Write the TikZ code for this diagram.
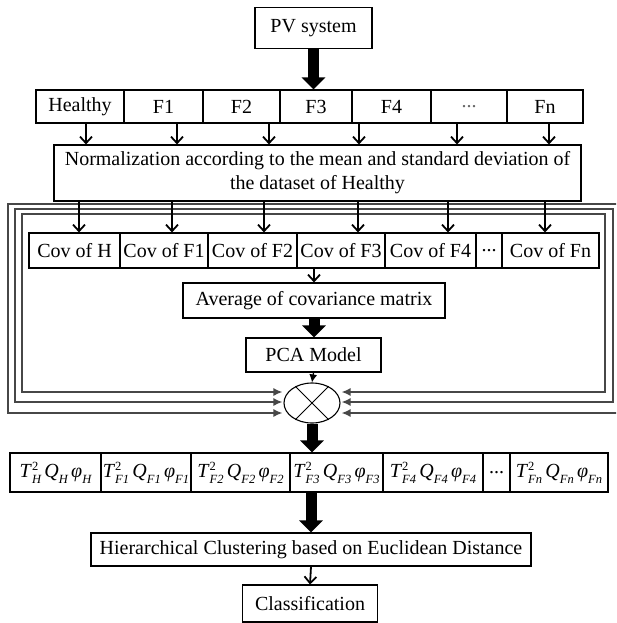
\documentclass[tikz,border=0pt]{standalone}
\usepackage{fontspec}
\setmainfont{Liberation Serif}
\usetikzlibrary{arrows.meta,shapes.geometric,calc}

% stacked super/subscript in text mode
\newcommand{\ssc}[2]{\makebox[0pt][l]{\raisebox{0.8ex}{\fontsize{12.5}{12.5}\selectfont #1}}\raisebox{-0.6ex}{\fontsize{12.5}{12.5}\selectfont\itshape #2}}
\newcommand{\tqp}[1]{\textit{T}\ssc{2}{#1}\,\textit{Q}\ssc{}{#1}\,\textit{φ}\ssc{}{#1}}
% one cell of a row: name, left x, right x, centre y, height, text
\newcommand{\cell}[6]{\node[box,minimum width={#3-#2},minimum height=#5] (#1) at ({(#2+#3)/2},#4) {#6};}

\begin{document}
\begin{tikzpicture}[x=1pt,y=-1pt,
  box/.style={draw=black,line width=1.1pt,inner sep=0pt,font=\fontsize{20}{24}\selectfont},
  arr/.style={line width=1.8pt,-{Straight Barb[length=6.5pt,width=12pt]}},
  tharr/.style={line width=11pt,-{Triangle[length=12pt,width=23pt]}},
  ptr/.style={line width=1.2pt,-{Latex[length=8pt,width=8pt]}},
  frm/.style={draw=black!72,line width=1.5pt,{Latex[length=9pt,width=8pt]}-{Latex[length=9pt,width=8pt]}}]
\useasboundingbox (0,0) rectangle (616,623);
\clip (0,0) rectangle (616,623);

% source
\node[box,minimum width=117,minimum height=41] (pv) at (313.5,28) {PV system};

% data sets
\cell{r1}{36}{124}{106.5}{33}{Healthy}
\cell{r2}{124}{203}{106.5}{33}{F1}
\cell{r3}{203}{280}{106.5}{33}{F2}
\cell{r4}{280}{352}{106.5}{33}{F3}
\cell{r5}{352}{431}{106.5}{33}{F4}
\cell{r6}{431}{507}{106.5}{33}{\textcolor{black!60}{...}}
\cell{r7}{507}{583}{106.5}{33}{Fn}

% normalisation
\node[box,minimum width=527,minimum height=56,align=center] (norm) at (317.5,173)
  {Normalization according to the mean and standard deviation of\\the dataset of Healthy};

% covariances
\cell{c1}{29}{120}{250.5}{35}{Cov of H}
\cell{c2}{120}{208}{250.5}{35}{Cov of F1}
\cell{c3}{208}{297}{250.5}{35}{Cov of F2}
\cell{c4}{297}{385}{250.5}{35}{Cov of F3}
\cell{c5}{385}{476}{250.5}{35}{Cov of F4}
\cell{c6}{476}{502}{250.5}{35}{...}
\cell{c7}{502}{599}{250.5}{35}{Cov of Fn}

\node[box,minimum width=262,minimum height=35] (avg) at (314,300.5) {Average of covariance matrix};
\node[box,minimum width=135,minimum height=34] (pca) at (313.5,355) {PCA Model};

% multiplier
\node[draw=black,line width=1.1pt,ellipse,minimum width=56,minimum height=40,inner sep=0pt] (mul) at (312,403) {};
\draw[line width=0.9pt] (mul.45) -- (mul.225) (mul.135) -- (mul.315);

% statistics
\cell{t1}{10}{101}{472.5}{39}{\tqp{H}}
\cell{t2}{101}{191}{472.5}{39}{\tqp{F1}}
\cell{t3}{191}{290}{472.5}{39}{\tqp{F2}}
\cell{t4}{290}{383}{472.5}{39}{\tqp{F3}}
\cell{t5}{383}{483}{472.5}{39}{\tqp{F4}}
\cell{t6}{483}{510}{472.5}{39}{...}
\cell{t7}{510}{608}{472.5}{39}{\tqp{Fn}}

\node[box,minimum width=440,minimum height=33] (hier) at (311,549.5) {Hierarchical  Clustering based on Euclidean Distance};
\node[box,minimum width=135,minimum height=37] (cls) at (310,603.5) {Classification};

% feedback loops into the multiplier
\path (mul.west) ++(-1,-11) coordinate (L1) ++(0,10) coordinate (L2) ++(0,11) coordinate (L3);
\path (mul.east) ++(1,-11) coordinate (R1) ++(0,10) coordinate (R2) ++(0,11) coordinate (R3);
\draw[frm] (L1) -- (22,392) -- (22,214) -- (605,214) -- (605,392) -- (R1);
\draw[frm] (L2) -- (15,402) -- (15,209) -- (613,209) -- (613,402) -- (R2);
\draw[frm] (L3) -- (8,413) -- (8,204) -- (630,204) -- (630,413) -- (R3);

% data sets into normalisation
\foreach \x in {86,177,269,359,457,549}{
  \coordinate (px) at (\x,0);
  \draw[arr] (px |- r1.south) -- (px |- norm.north);
}
% normalised sets into covariances
\foreach \x in {79,172,264,358,448,545}{
  \coordinate (px) at (\x,0);
  \draw[arr] (px |- norm.south) -- (px |- c1.north);
}

% main flow
\draw[tharr] (pv.south) -- (pv.south |- r4.north);
\draw[arr] (avg.north |- c4.south) -- (avg.north);
\draw[tharr] (avg.south) -- (avg.south |- pca.north);
\draw[ptr] (pca.south) -- (mul.north);
\draw[tharr] (mul.south) -- (mul.south |- t4.north);
\draw[tharr] (t4.south -| hier.north) -- (hier.north);
\draw[arr] (hier.south) -- (cls.north);
\end{tikzpicture}
\end{document}
